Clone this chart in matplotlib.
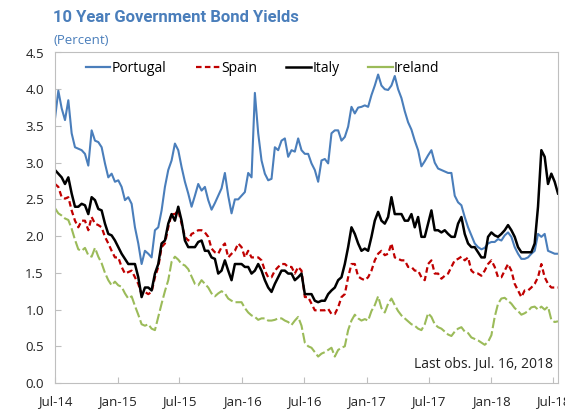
import matplotlib
matplotlib.use('Agg')
import matplotlib.pyplot as plt
from matplotlib.lines import Line2D
import pandas as pd

# values, evenly spaced from 1 Jul 2014 to 16 Jul 2018 (percent)
portugal = [
    3.60, 3.98, 3.74, 3.58, 3.85, 3.40, 3.21, 3.19, 3.17, 3.12, 2.96, 3.44, 3.30, 3.28, 3.21, 2.99,
    2.80, 2.85, 2.74, 2.76, 2.67, 2.49, 2.53, 2.44, 2.12, 1.90, 1.62, 1.80, 1.76, 1.71, 2.08,
    2.12, 2.35, 2.67, 2.90, 3.03, 3.26, 3.17, 2.94, 2.74, 2.58, 2.40, 2.55, 2.71, 2.62, 2.67,
    2.49, 2.36, 2.45, 2.55, 2.65, 2.86, 2.55, 2.31, 2.50, 2.50, 2.55, 2.60, 2.86, 2.80, 3.95,
    3.40, 3.03, 2.85, 2.76, 2.78, 3.21, 3.17, 3.30, 3.33, 3.08, 3.17, 3.15, 3.33, 3.17, 3.12,
    3.12, 2.99, 2.90, 2.74, 3.03, 3.05, 2.99, 3.40, 3.44, 3.44, 3.30, 3.35, 3.49, 3.76, 3.67,
    3.75, 3.76, 3.78, 3.76, 3.92, 4.05, 4.20, 4.05, 4.00, 3.99, 4.05, 4.18, 4.00, 3.88, 3.70,
    3.55, 3.45, 3.30, 3.17, 2.95, 3.02, 3.10, 3.17, 3.00, 2.92, 2.90, 2.88, 2.86, 2.86, 2.55,
    2.46, 2.42, 2.26, 2.12, 2.01, 1.90, 1.85, 1.82, 1.84, 1.90, 1.92, 1.92, 1.96, 1.94, 2.01,
    2.05, 1.99, 1.85, 1.76, 1.69, 1.69, 1.71, 1.76, 1.80, 2.03, 1.99, 2.03, 1.80, 1.78, 1.76, 1.76,
]
spain = [
    2.71, 2.67, 2.53, 2.51, 2.53, 2.35, 2.21, 2.12, 2.21, 2.21, 2.08, 2.26, 2.17, 2.15, 2.12, 1.99,
    1.90, 1.80, 1.71, 1.71, 1.58, 1.49, 1.51, 1.53, 1.44, 1.35, 1.21, 1.24, 1.21, 1.24, 1.44,
    1.58, 1.85, 1.90, 2.12, 2.30, 2.30, 2.35, 2.17, 1.99, 1.94, 2.03, 2.05, 2.08, 2.08, 2.05,
    1.99, 1.83, 1.78, 1.76, 1.85, 1.90, 1.71, 1.76, 1.80, 1.90, 1.85, 1.71, 1.80, 1.71, 1.71,
    1.71, 1.67, 1.53, 1.44, 1.44, 1.53, 1.58, 1.62, 1.62, 1.58, 1.58, 1.49, 1.58, 1.53, 1.17,
    1.17, 1.08, 0.99, 0.99, 0.99, 0.99, 1.01, 0.94, 0.94, 1.03, 1.17, 1.21, 1.44, 1.62, 1.62,
    1.45, 1.42, 1.40, 1.44, 1.53, 1.67, 1.76, 1.80, 1.74, 1.76, 1.90, 1.71, 1.69, 1.67, 1.67,
    1.58, 1.58, 1.53, 1.53, 1.44, 1.40, 1.62, 1.67, 1.49, 1.49, 1.42, 1.46, 1.49, 1.58, 1.67,
    1.69, 1.72, 1.67, 1.71, 1.53, 1.49, 1.49, 1.46, 1.53, 1.62, 1.67, 1.58, 1.44, 1.44, 1.53,
    1.62, 1.53, 1.35, 1.26, 1.17, 1.26, 1.26, 1.30, 1.35, 1.44, 1.62, 1.44, 1.35, 1.30, 1.30, 1.30,
]
italy = [
    2.90, 2.85, 2.80, 2.71, 2.80, 2.58, 2.40, 2.40, 2.44, 2.42, 2.30, 2.53, 2.49, 2.37, 2.35, 2.17,
    2.03, 2.01, 1.94, 1.85, 1.76, 1.69, 1.62, 1.62, 1.62, 1.44, 1.17, 1.30, 1.30, 1.26, 1.49,
    1.62, 1.90, 1.94, 2.17, 2.30, 2.21, 2.40, 2.21, 1.94, 1.85, 1.85, 1.85, 1.92, 1.94, 1.80,
    1.80, 1.71, 1.69, 1.49, 1.53, 1.67, 1.53, 1.40, 1.62, 1.62, 1.62, 1.58, 1.58, 1.49, 1.53,
    1.62, 1.53, 1.40, 1.30, 1.24, 1.35, 1.44, 1.53, 1.53, 1.49, 1.49, 1.40, 1.44, 1.49, 1.21,
    1.21, 1.21, 1.12, 1.10, 1.12, 1.12, 1.21, 1.26, 1.30, 1.40, 1.44, 1.62, 1.85, 2.12, 2.03,
    1.90, 1.80, 1.83, 1.80, 1.99, 2.21, 2.33, 2.21, 2.17, 2.26, 2.53, 2.30, 2.30, 2.30, 2.21,
    2.21, 2.30, 2.12, 2.26, 1.99, 1.99, 2.17, 2.35, 2.08, 2.08, 2.05, 2.08, 2.03, 1.99, 1.99,
    2.17, 2.26, 2.03, 1.90, 1.85, 1.85, 1.78, 1.71, 1.71, 1.99, 2.05, 2.01, 1.99, 2.03, 2.08,
    2.15, 2.08, 1.99, 1.85, 1.78, 1.78, 1.78, 1.78, 1.90, 2.40, 3.17, 3.08, 2.71, 2.85, 2.74, 2.58,
]
ireland = [
    2.38, 2.31, 2.28, 2.24, 2.22, 2.10, 1.95, 1.82, 1.80, 1.84, 1.74, 1.72, 1.84, 1.72, 1.63, 1.50,
    1.40, 1.33, 1.38, 1.33, 1.31, 1.22, 1.15, 1.18, 1.05, 0.93, 0.80, 0.78, 0.80, 0.74, 0.72,
    0.90, 1.08, 1.25, 1.40, 1.65, 1.72, 1.68, 1.62, 1.60, 1.55, 1.45, 1.35, 1.33, 1.40, 1.35,
    1.30, 1.22, 1.18, 1.22, 1.25, 1.22, 1.15, 1.12, 1.10, 1.10, 1.10, 1.02, 0.96, 0.92, 0.90,
    0.86, 0.88, 0.88, 0.85, 0.85, 0.86, 0.88, 0.88, 0.85, 0.83, 0.79, 0.85, 0.90, 0.78, 0.55,
    0.50, 0.48, 0.42, 0.36, 0.40, 0.42, 0.45, 0.48, 0.36, 0.45, 0.48, 0.50, 0.72, 0.85, 0.93,
    0.88, 0.85, 0.87, 0.85, 0.98, 1.06, 1.18, 1.02, 0.96, 1.08, 1.15, 1.06, 0.98, 0.92, 0.88,
    0.84, 0.80, 0.78, 0.74, 0.72, 0.80, 0.95, 0.90, 0.80, 0.76, 0.74, 0.70, 0.66, 0.64, 0.70,
    0.74, 0.76, 0.70, 0.68, 0.62, 0.60, 0.58, 0.55, 0.52, 0.56, 0.65, 0.90, 1.08, 1.15, 1.16,
    1.12, 1.08, 1.02, 0.98, 0.93, 0.95, 0.98, 1.03, 1.04, 1.00, 1.04, 1.00, 1.04, 0.86, 0.83, 0.84,
]

start, end = '2014-07-01', '2018-07-16'
y_ticks = [0.0, 0.5, 1.0, 1.5, 2.0, 2.5, 3.0, 3.5, 4.0, 4.5]
x_ticks = pd.date_range('2014-07-01', '2018-07-01', freq='6MS')

blue = '#4A7EBB'
red = '#C00000'
green = '#9BBB59'
grey = '#BFBFBF'

plt.rcParams['font.family'] = ['Open Sans', 'DejaVu Sans']

fig = plt.figure(figsize=(5.65, 4.19), dpi=100)
ax = fig.add_axes([55 / 565, 1 - 383 / 419, 503 / 565, 330.5 / 419])

dates = pd.date_range(start, end, periods=len(portugal))
ax.plot(dates, ireland, color=green, lw=1.5, dashes=(5, 1.5))
ax.plot(dates, spain, color=red, lw=1.6, dashes=(2.5, 1.5))
ax.plot(dates, portugal, color=blue, lw=1.5)
ax.plot(dates, italy, color='black', lw=1.8)

ax.set_xlim(pd.Timestamp(start), pd.Timestamp(end))
ax.set_ylim(0, 4.5)
ax.set_yticks(y_ticks)
ax.set_yticklabels(['%.1f' % v for v in y_ticks])
ax.set_xticks(x_ticks)
ax.set_xticklabels([d.strftime('%b-%y') for d in x_ticks])

for s in ax.spines.values():
    s.set_color(grey)
ax.tick_params(direction='in', length=4, color=grey, labelsize=9.5, labelcolor='#222222')
ax.tick_params(axis='x', pad=9)
ax.tick_params(axis='y', pad=8)

handles = [
    Line2D([], [], color=blue, lw=1.6),
    Line2D([], [], color=red, lw=1.6, dashes=(2.5, 1.5)),
    Line2D([], [], color='black', lw=1.8),
    Line2D([], [], color=green, lw=1.6),
]
ax.legend(handles, ['Portugal', 'Spain', 'Italy', 'Ireland'], loc='upper left',
          ncol=4, frameon=False, fontsize=10, handlelength=1.75, handletextpad=0.1,
          columnspacing=2.1, bbox_to_anchor=(0.045, 1.0), borderaxespad=0.2)

ax.text(0.99, 0.055, 'Last obs. Jul. 16, 2018', transform=ax.transAxes,
        ha='right', va='center', fontsize=10, color='#222222')

fig.text(53 / 565, 1 - 17 / 419, '10 Year Government Bond Yields', fontsize=12,
         fontweight='bold', color=blue, va='center', family=['Roboto', 'DejaVu Sans'])
fig.text(53 / 565, 1 - 40 / 419, '(Percent)', fontsize=9.5, color=blue, va='center')

fig.savefig('out.png', dpi=100)
